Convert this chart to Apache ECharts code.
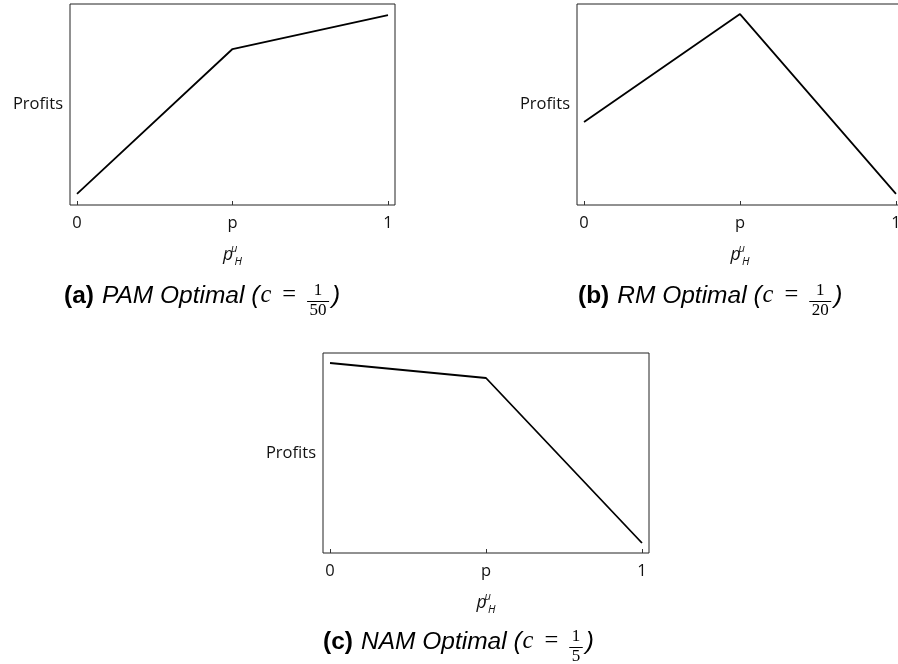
<!DOCTYPE html>
<html>
<head>
<meta charset="utf-8">
<script src="https://cdn.jsdelivr.net/npm/echarts@6/dist/echarts.min.js"></script>
<style>html,body{margin:0;padding:0;background:#fff}#c{width:898px;height:664px}</style>
</head>
<body>
<div id="c"></div>
<script>
// ---- data ----
const xPositions = [0, 0.5, 1];
const xTickLabels = ['0', 'p', '1'];
const profitsA = [5.5, 77.6, 94.5];   // PAM optimal
const profitsB = [41.3, 95.0, 5.5];   // RM optimal
const profitsC = [95.0, 87.5, 5.0];   // NAM optimal
const panelLetters = ['(a)', '(b)', '(c)'];
const panelTitles = ['PAM Optimal (', 'RM Optimal (', 'NAM Optimal ('];
const costDenoms = ['50', '20', '5'];
const yName = 'Profits';

const chart = echarts.init(document.getElementById('c'), null, {renderer: 'canvas'});

const grids = [
  {left: 70, top: 4, width: 325, height: 201},
  {left: 577, top: 4, width: 326, height: 201},
  {left: 323, top: 353, width: 326, height: 200}
];
const labelMap = {};
xPositions.forEach((v, i) => labelMap[v] = xTickLabels[i]);

const xAxes = grids.map((g, i) => ({
  type: 'value', gridIndex: i, min: -0.0225, max: 1.0225,
  axisLine: {show: false},
  axisTick: {show: true, inside: true, length: 4, customValues: xPositions, lineStyle: {color: '#333', width: 1}},
  axisLabel: {customValues: xPositions, formatter: v => labelMap[v] ?? '', margin: 10,
    fontFamily: 'Open Sans', fontSize: 16.5, color: '#111'},
  splitLine: {show: false},
  name: '{p|p}{mu|μ}{h|H}', nameLocation: 'middle', nameGap: 38,
  nameTextStyle: {
    rich: {
      p: {fontFamily: 'Open Sans', fontStyle: 'italic', fontSize: 17.5, color: '#111', lineHeight: 24, verticalAlign: 'middle', padding: [0, 1, 0, 0]},
      mu: {fontFamily: 'Open Sans', fontStyle: 'italic', fontSize: 11, color: '#111', width: 0.5, verticalAlign: 'top', lineHeight: 24},
      h: {fontFamily: 'Open Sans', fontStyle: 'italic', fontSize: 11, color: '#111', verticalAlign: 'bottom', lineHeight: 24}
    }
  }
}));
const yAxes = grids.map((g, i) => ({
  type: 'value', gridIndex: i, min: 0, max: 100,
  axisLine: {show: false}, axisTick: {show: false}, axisLabel: {show: false}, splitLine: {show: false},
  name: yName, nameLocation: 'middle', nameRotate: 0, nameGap: 7,
  nameTextStyle: {fontFamily: 'Open Sans', fontSize: 16.5, color: '#111'}
}));

const seriesData = [profitsA, profitsB, profitsC];
const series = seriesData.map((d, i) => ({
  type: 'line', xAxisIndex: i, yAxisIndex: i,
  data: d.map((v, j) => [xPositions[j], v]),
  symbol: 'none', lineStyle: {color: '#000', width: 1.8}, silent: true
}));

// captions (chained with measured text widths)
const measureCtx = document.createElement('canvas').getContext('2d');
function w(text, font) { measureCtx.font = font; return measureCtx.measureText(text).width; }
const capStarts = [{x: 64, y: 296}, {x: 578, y: 296}, {x: 323, y: 642}];
const fs = 24.5;
const fBold = `bold ${fs}px "Liberation Sans"`;
const fIt = `italic ${fs}px "Liberation Sans"`;
const fMathIt = `italic ${fs}px "Liberation Serif"`;
const fMath = `${fs}px "Liberation Serif"`;
const fFrac = `17px "Liberation Serif"`;
const graphic = [];
capStarts.forEach((s, i) => {
  let x = s.x;
  const y = s.y;
  graphic.push({type: 'text', x: x, y: y, style: {text: panelLetters[i], font: fBold, fill: '#000', verticalAlign: 'middle'}});
  x += w(panelLetters[i], fBold) + 8;
  graphic.push({type: 'text', x: x, y: y, style: {text: panelTitles[i], font: fIt, fill: '#000', verticalAlign: 'middle'}});
  x += w(panelTitles[i], fIt) + 1;
  graphic.push({type: 'text', x: x, y: y, style: {text: 'c', font: fMathIt, fill: '#000', verticalAlign: 'middle'}});
  x += w('c', fMathIt) + 11;
  graphic.push({type: 'text', x: x, y: y, style: {text: '=', font: fMath, fill: '#000', verticalAlign: 'middle'}});
  x += w('=', fMath) + 11;
  const barW = Math.max(w(costDenoms[i], fFrac), w('1', fFrac)) + 5;
  const cx = x + barW / 2;
  graphic.push({type: 'text', x: cx, y: y + 3, style: {text: '1', font: fFrac, fill: '#000', align: 'center', verticalAlign: 'bottom'}});
  graphic.push({type: 'line', shape: {x1: x, y1: y + 5.5, x2: x + barW, y2: y + 5.5}, style: {stroke: '#000', lineWidth: 1}});
  graphic.push({type: 'text', x: cx, y: y + 6, style: {text: costDenoms[i], font: fFrac, fill: '#000', align: 'center', verticalAlign: 'top'}});
  x += barW + 3;
  graphic.push({type: 'text', x: x, y: y, style: {text: ')', font: fIt, fill: '#000', verticalAlign: 'middle'}});
});

chart.setOption({
  backgroundColor: '#fff',
  animation: false,
  grid: grids.map(g => Object.assign({show: true, borderColor: '#222', borderWidth: 1, backgroundColor: 'transparent', outerBoundsMode: 'none', containLabel: false}, g)),
  xAxis: xAxes,
  yAxis: yAxes,
  series: series,
  graphic: graphic
});
</script>
</body>
</html>
